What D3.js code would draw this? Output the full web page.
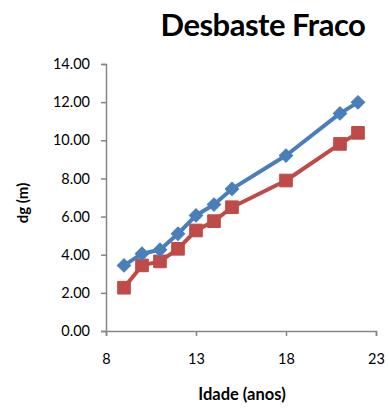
<!DOCTYPE html>
<html>
<head>
<meta charset="utf-8">
<script src="https://cdn.jsdelivr.net/npm/d3@7"></script>
<style>
  html, body { margin: 0; padding: 0; background: #fff; }
  svg { display: block; font-family: Lato, "Open Sans", sans-serif; }
</style>
</head>
<body>
<svg id="chart" width="390" height="416"></svg>
<script>
// Idade (anos) and dg (m) for the two series
const ages = [9, 10, 11, 12, 13, 14, 15, 18, 21, 22];
const seriesBlue = [3.44, 4.05, 4.26, 5.10, 6.06, 6.63, 7.45, 9.20, 11.41, 11.99];
const seriesRed  = [2.27, 3.44, 3.65, 4.31, 5.27, 5.76, 6.49, 7.89, 9.81, 10.39];
const xTicks = [8, 13, 18, 23];
const yTicks = [0, 2, 4, 6, 8, 10, 12, 14];

const svg = d3.select("#chart");
const plotLeft = 106, plotRight = 376, plotTop = 64, plotBottom = 331;

const x = d3.scaleLinear().domain([8, 23]).range([plotLeft, plotRight]);
const y = d3.scaleLinear().domain([0, 14]).range([plotBottom, plotTop]);

const axisColor = "#868686";

// Y axis
const gy = svg.append("g")
  .attr("transform", `translate(${plotLeft},0)`)
  .call(d3.axisLeft(y).tickValues(yTicks).tickSize(5).tickPadding(11)
    .tickFormat(d3.format(".2f")));
gy.select(".domain").attr("stroke", axisColor).attr("stroke-width", 1.5);
gy.selectAll(".tick line").attr("stroke", axisColor).attr("stroke-width", 1.5);
gy.selectAll(".tick text").attr("font-size", 14.5).attr("fill", "#000")
  .attr("font-family", "Lato, sans-serif");

// X axis
const gx = svg.append("g")
  .attr("transform", `translate(0,${plotBottom})`)
  .call(d3.axisBottom(x).tickValues(xTicks).tickSize(5).tickPadding(18)
    .tickFormat(d3.format("d")));
gx.select(".domain").attr("stroke", axisColor).attr("stroke-width", 1.5);
gx.selectAll(".tick line").attr("stroke", axisColor).attr("stroke-width", 1.5);
gx.selectAll(".tick text").attr("font-size", 14.5).attr("fill", "#000")
  .attr("font-family", "Lato, sans-serif");

// Titles
svg.append("text")
  .attr("x", 263).attr("y", 36)
  .attr("text-anchor", "middle")
  .attr("font-size", 31).attr("font-weight", "bold")
  .attr("letter-spacing", -0.5)
  .text("Desbaste Fraco");

svg.append("text")
  .attr("transform", "translate(28,203) rotate(-90)")
  .attr("text-anchor", "middle")
  .attr("font-size", 15).attr("font-weight", "bold")
  .text("dg (m)");

svg.append("text")
  .attr("x", 242).attr("y", 400)
  .attr("text-anchor", "middle")
  .attr("font-size", 16.5).attr("font-weight", "bold")
  .text("Idade (anos)");

// Series lines and markers
const line = d3.line().x(d => x(d[0])).y(d => y(d[1]));

function drawSeries(values, color, size, rotate) {
  const pts = ages.map((a, i) => [a, values[i]]);
  svg.append("path")
    .datum(pts)
    .attr("fill", "none")
    .attr("stroke", color)
    .attr("stroke-width", 4)
    .attr("stroke-linejoin", "round")
    .attr("d", line);
  svg.append("g").selectAll("path")
    .data(pts)
    .join("path")
    .attr("transform", d => `translate(${x(d[0])},${y(d[1])}) rotate(${rotate})`)
    .attr("d", d3.symbol().type(d3.symbolSquare).size(size))
    .attr("fill", color)
    .attr("stroke", color)
    .attr("stroke-width", 1);
}

drawSeries(seriesRed, "#be4b48", 160, 0);
drawSeries(seriesBlue, "#4a7ebb", 90, 45);
</script>
</body>
</html>
